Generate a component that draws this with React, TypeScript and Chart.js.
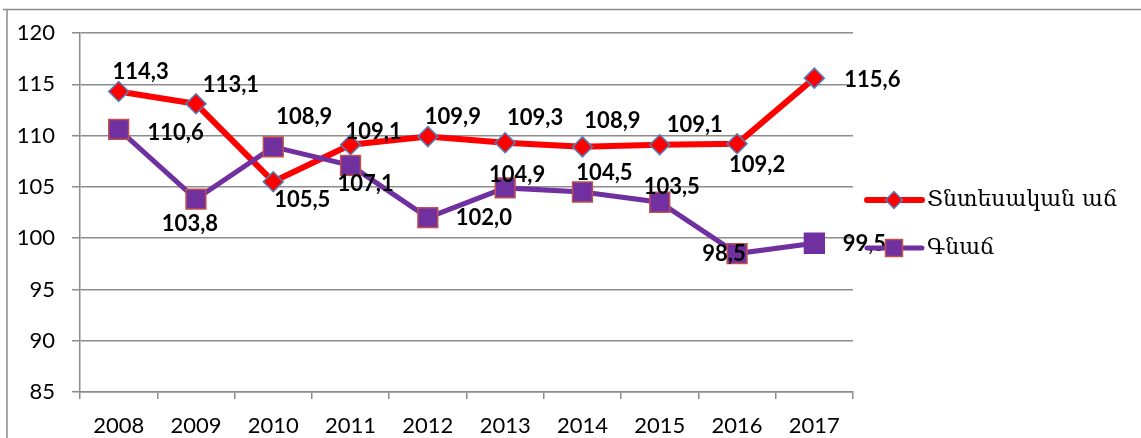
import React, { useEffect, useRef } from 'react';
import { Chart, registerables } from 'chart.js';

Chart.register(...registerables);

const years = ['2008', '2009', '2010', '2011', '2012', '2013', '2014', '2015', '2016', '2017'];
const growthValues = [114.3, 113.1, 105.5, 109.1, 109.9, 109.3, 108.9, 109.1, 109.2, 115.6];
const inflationValues = [110.6, 103.8, 108.9, 107.1, 102.0, 104.9, 104.5, 103.5, 98.5, 99.5];
const seriesNames = ['Տնտեսական աճ', 'Գնաճ'];
const yMin = 85;
const yMax = 120;
const yStep = 5;

// label placement offsets (dx, dy) relative to each point
const growthLabelOffsets = [[22, -20], [35, -19], [29, 18], [23, -13], [25, -20], [30, -25], [30, -26], [35, -20], [20, 21], [58, 2]];
const inflationLabelOffsets = [[57, 3], [-6, 25], [31, -30], [15, 19], [56, 0], [12, -13], [22, -19], [12, -15], [-13, 0], [50, 1]];

const RED = '#FF0000';
const PURPLE = '#7030A0';
const GRID = '#8c8c8c';
const TICK_FONT = { family: 'Lato, "Open Sans", sans-serif', size: 22 };

const fmt = (v: number) => v.toFixed(1).replace('.', ',');

const frameAndLabels = {
  id: 'frameAndLabels',
  beforeDraw(chart: any) {
    const ctx = chart.ctx;
    ctx.save();
    ctx.strokeStyle = '#8a8a8a';
    ctx.lineWidth = 1.5;
    ctx.beginPath();
    ctx.moveTo(3, 9.5);
    ctx.lineTo(chart.width, 9.5);
    ctx.moveTo(7, 9.5);
    ctx.lineTo(7, chart.height);
    ctx.stroke();
    ctx.restore();
  },
  afterDatasetsDraw(chart: any) {
    const ctx = chart.ctx;
    ctx.save();
    ctx.font = 'bold 22px Lato, "Open Sans", sans-serif';
    ctx.fillStyle = '#000';
    ctx.textAlign = 'center';
    ctx.textBaseline = 'middle';
    chart.data.datasets.forEach((ds: any, di: number) => {
      const meta = chart.getDatasetMeta(di);
      const offs = ds.labelOffsets as number[][];
      meta.data.forEach((pt: any, i: number) => {
        const v = ds.data[i];
        ctx.fillText(fmt(v), pt.x + offs[i][0], pt.y + offs[i][1]);
      });
    });
    ctx.restore();
  },
  afterDraw(chart: any) {
    const ctx = chart.ctx;
    const lx0 = 867, lx1 = 922, mx = 894, tx = 927;
    const rows = [
      { y: 200, color: RED, width: 6, name: seriesNames[0], shape: 'diamond' },
      { y: 248, color: PURPLE, width: 5, name: seriesNames[1], shape: 'square' },
    ];
    ctx.save();
    rows.forEach((r) => {
      ctx.strokeStyle = r.color;
      ctx.lineWidth = r.width;
      ctx.lineCap = 'round';
      ctx.beginPath();
      ctx.moveTo(lx0, r.y);
      ctx.lineTo(lx1, r.y);
      ctx.stroke();
      ctx.lineCap = 'butt';
      if (r.shape === 'diamond') {
        const s = 8.5;
        ctx.beginPath();
        ctx.moveTo(mx, r.y - s);
        ctx.lineTo(mx + s, r.y);
        ctx.lineTo(mx, r.y + s);
        ctx.lineTo(mx - s, r.y);
        ctx.closePath();
        ctx.fillStyle = RED;
        ctx.fill();
        ctx.strokeStyle = '#4F81BD';
        ctx.lineWidth = 1.5;
        ctx.stroke();
      } else {
        const h = 8.5;
        ctx.fillStyle = PURPLE;
        ctx.fillRect(mx - h, r.y - h, 2 * h, 2 * h);
        ctx.strokeStyle = '#C0504D';
        ctx.lineWidth = 1.5;
        ctx.strokeRect(mx - h, r.y - h, 2 * h, 2 * h);
      }
      ctx.fillStyle = '#000';
      ctx.font = '22px "DejaVu Serif", serif';
      ctx.textAlign = 'left';
      ctx.textBaseline = 'middle';
      ctx.fillText(r.name, tx, r.y);
    });
    ctx.restore();
  },
};

export default function App() {
  const ref = useRef<HTMLCanvasElement | null>(null);
  useEffect(() => {
    document.body.style.margin = '0';
    const canvas = ref.current;
    if (!canvas) return;
    const chart = new Chart(canvas, {
      type: 'line',
      data: {
        labels: years,
        datasets: [
          {
            label: seriesNames[0],
            data: growthValues,
            labelOffsets: growthLabelOffsets,
            borderColor: RED,
            borderWidth: 6,
            backgroundColor: RED,
            pointStyle: 'rectRot',
            pointRadius: 10,
            pointHoverRadius: 10,
            pointBackgroundColor: RED,
            pointBorderColor: '#4F81BD',
            pointBorderWidth: 1.5,
            tension: 0,
            order: 1,
          } as any,
          {
            label: seriesNames[1],
            data: inflationValues,
            labelOffsets: inflationLabelOffsets,
            borderColor: PURPLE,
            borderWidth: 5,
            backgroundColor: PURPLE,
            pointStyle: 'rect',
            pointRadius: 14,
            pointHoverRadius: 14,
            pointBackgroundColor: PURPLE,
            pointBorderColor: years.map((_, i) => (i === years.length - 1 ? PURPLE : '#C0504D')),
            pointBorderWidth: 1.5,
            tension: 0,
            order: 0,
          } as any,
        ],
      },
      options: {
        responsive: false,
        animation: false,
        events: [],
        layout: { padding: { left: 0, top: 33, right: 288, bottom: 0 } },
        plugins: {
          legend: { display: false },
          tooltip: { enabled: false },
          title: { display: false },
        },
        scales: {
          x: {
            offset: true,
            grid: {
              offset: true,
              drawOnChartArea: false,
              drawTicks: true,
              tickLength: 7,
              color: GRID,
              lineWidth: 1.5,
            },
            border: { display: true, color: GRID, width: 1.5 },
            ticks: { font: TICK_FONT, color: '#000', padding: 14, maxRotation: 0, autoSkip: false },
            afterFit: (s: any) => { s.height = 46; },
          },
          y: {
            min: yMin,
            max: yMax,
            ticks: { stepSize: yStep, font: TICK_FONT, color: '#000', padding: 17 },
            grid: { color: GRID, lineWidth: 1.5, tickLength: 8, drawTicks: true },
            border: { display: true, color: GRID, width: 1.5 },
            afterFit: (s: any) => { s.width = 80; },
          },
        },
      },
      plugins: [frameAndLabels],
    });
    return () => chart.destroy();
  }, []);
  return (
    <div style={{ position: 'absolute', left: 0, top: 0, width: 1141, height: 438 }}>
      <canvas ref={ref} width={1141} height={438} style={{ display: 'block', width: 1141, height: 438 }} />
    </div>
  );
}
